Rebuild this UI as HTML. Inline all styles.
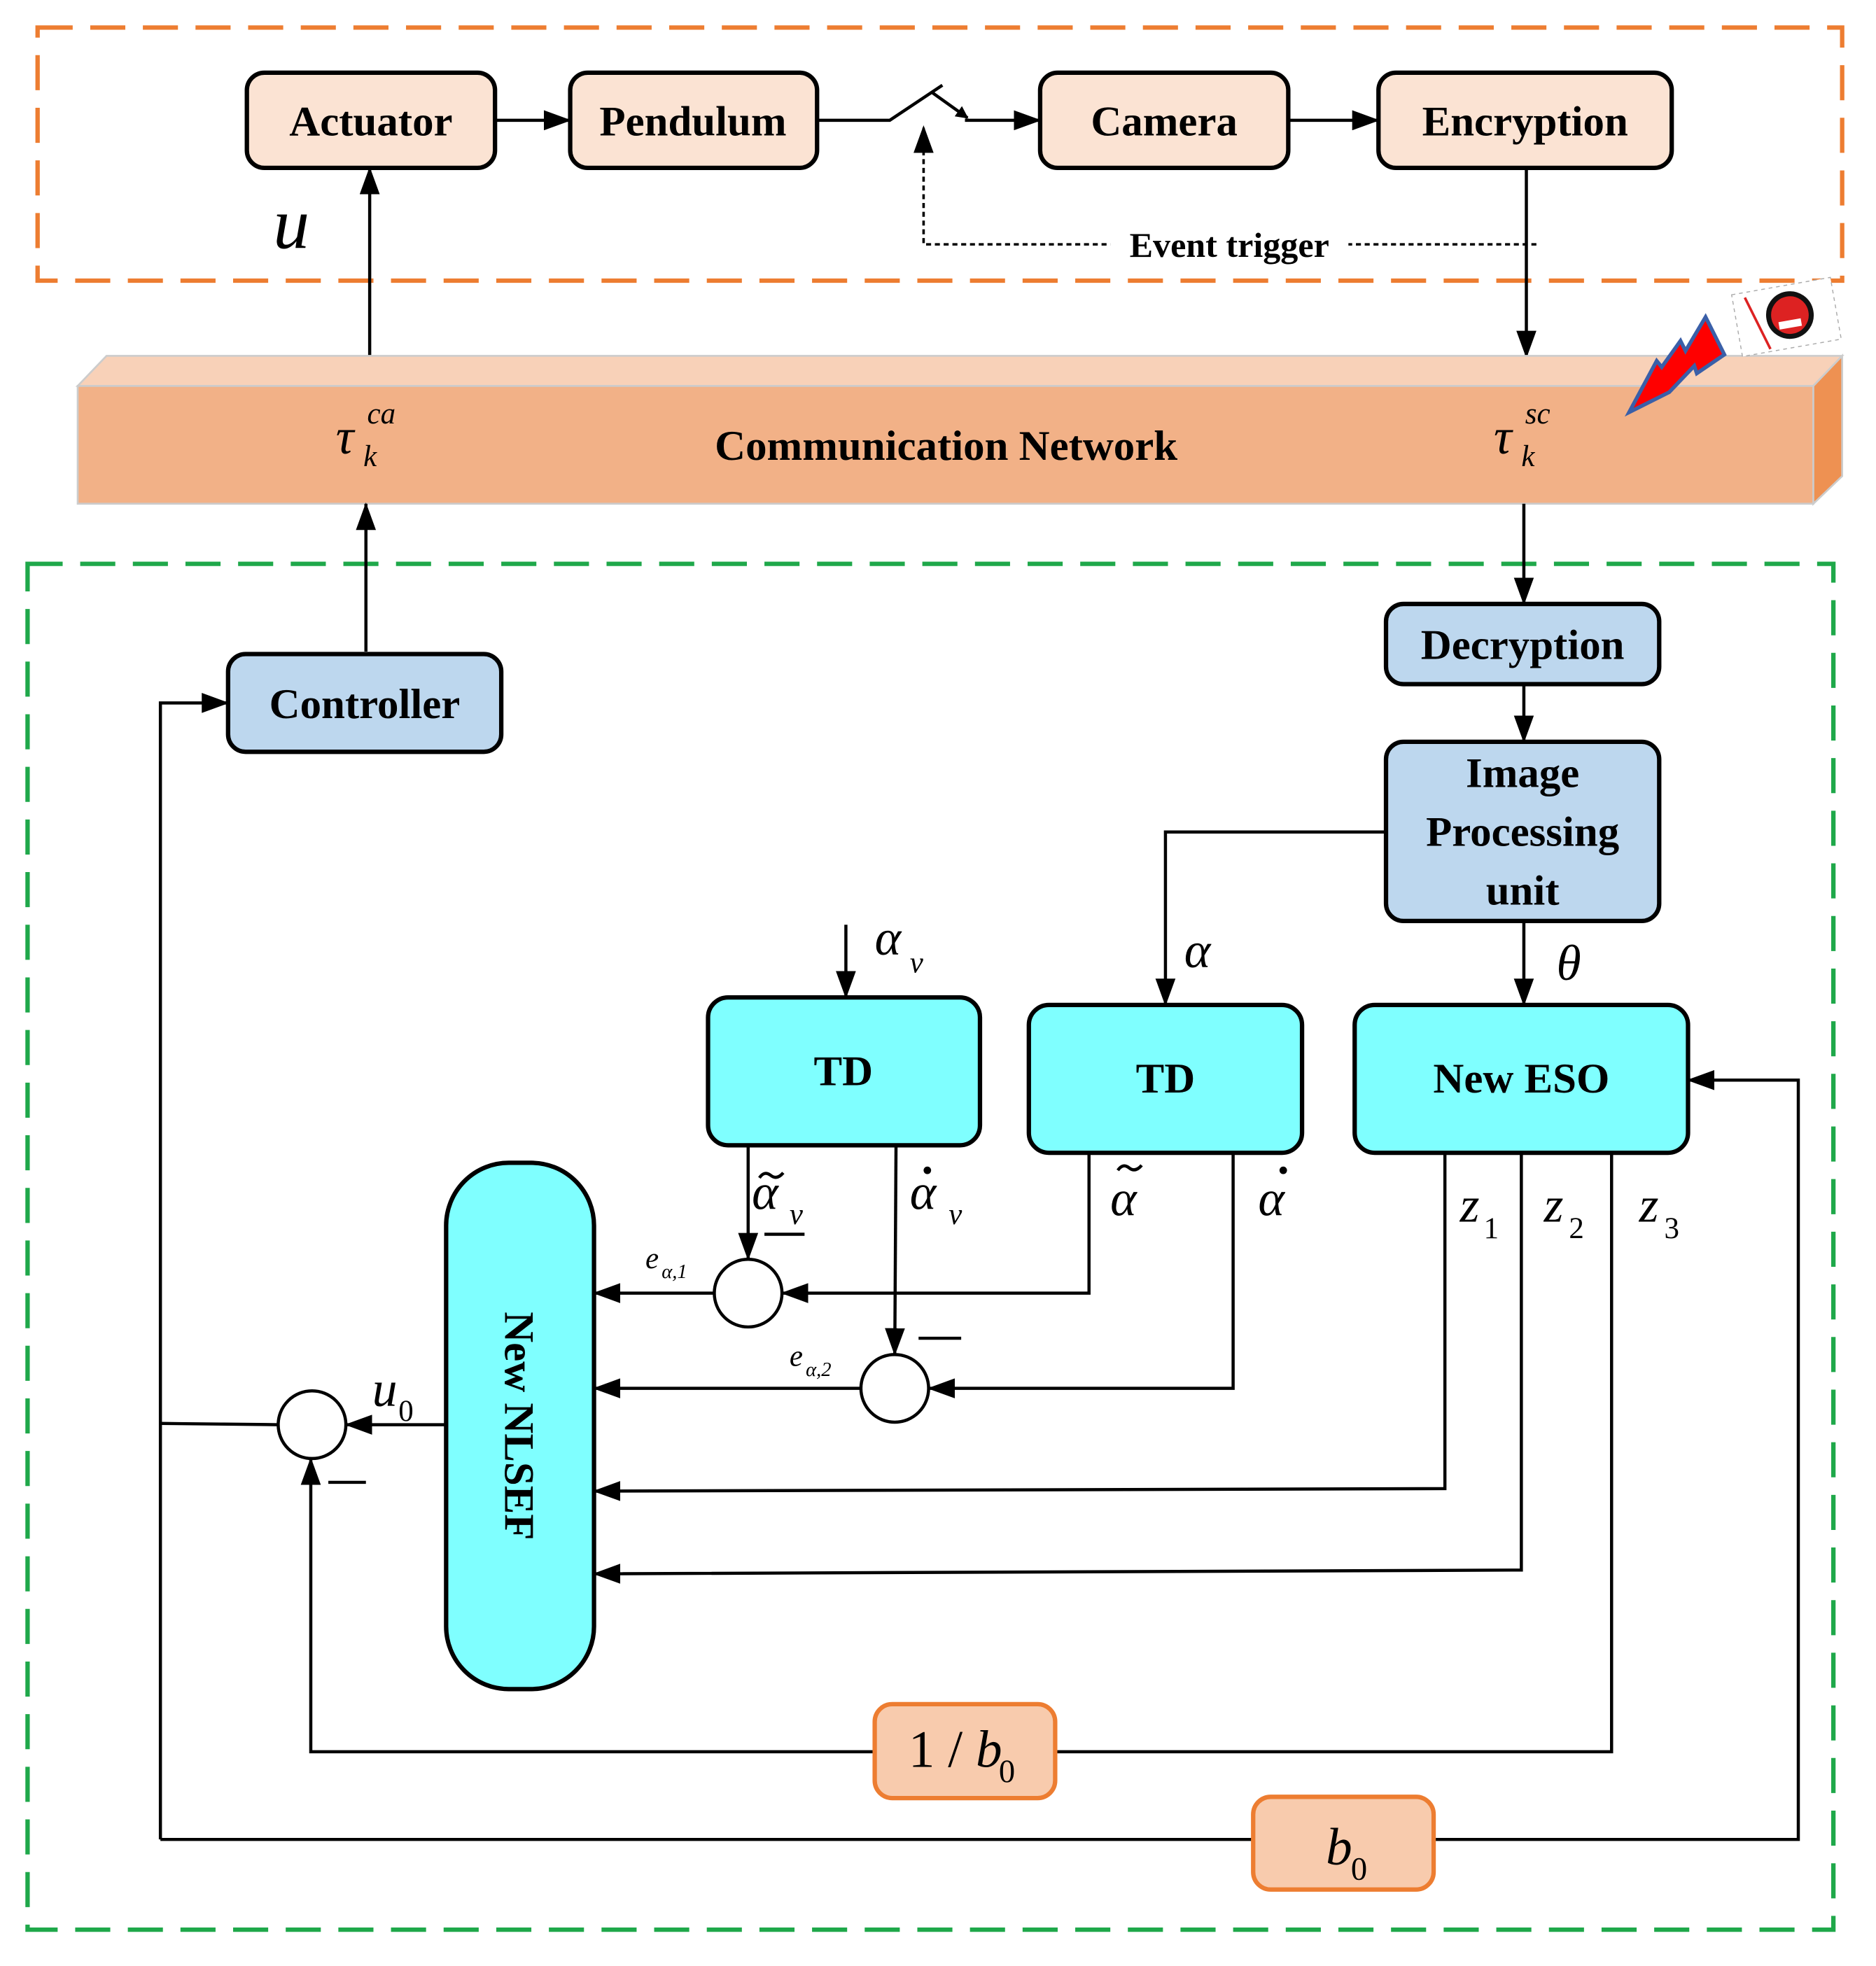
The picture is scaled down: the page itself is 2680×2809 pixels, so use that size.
<!DOCTYPE html>
<html><head><meta charset="utf-8"><style>
html,body{margin:0;padding:0;background:#fff}
svg{display:block}
text{font-family:"Liberation Serif",serif;fill:#000}
.b{font-weight:bold;font-size:34px}
.i{font-style:italic}
</style></head><body>
<svg width="2680" height="2809" viewBox="0 0 1497 1569" preserveAspectRatio="none" xmlns="http://www.w3.org/2000/svg">
<defs>
<marker id="a" markerWidth="10" markerHeight="10" refX="9" refY="5" orient="auto" markerUnits="userSpaceOnUse" viewBox="0 0 10 10">
<path d="M0,0 L10,5 L0,10 z" fill="#000"/></marker>
<marker id="A" markerWidth="22" markerHeight="16" refX="21" refY="8" orient="auto" markerUnits="userSpaceOnUse" viewBox="0 0 22 16">
<path d="M0,0 L22,8 L0,16 z" fill="#000"/></marker>
</defs>
<rect x="30" y="22" width="1440" height="202" fill="none" stroke="#ed7d31" stroke-width="3.5" stroke-dasharray="28,14"/>
<g stroke="#000" stroke-width="3.5" fill="#fbe3d3">
<rect x="197" y="58" width="198" height="76" rx="14"/>
<rect x="455" y="58" width="197" height="76" rx="14"/>
<rect x="830" y="58" width="198" height="76" rx="14"/>
<rect x="1100" y="58" width="234" height="76" rx="14"/>
</g>
<text class="b" x="296" y="108" text-anchor="middle">Actuator</text>
<text class="b" x="553" y="108" text-anchor="middle">Pendulum</text>
<text class="b" x="929" y="108" text-anchor="middle">Camera</text>
<text class="b" x="1217" y="108" text-anchor="middle">Encryption</text>
<g stroke="#000" stroke-width="2.5" fill="none">
<line x1="395" y1="96" x2="455" y2="96" marker-end="url(#A)"/>
<polyline points="652,96 710,96 752,68"/>
<line x1="744" y1="74" x2="772" y2="94" marker-end="url(#a)"/>
<line x1="770" y1="96" x2="830" y2="96" marker-end="url(#A)"/>
<line x1="1028" y1="96" x2="1100" y2="96" marker-end="url(#A)"/>
<polyline points="1226,195 737,195 737,102" stroke-dasharray="4,3" stroke-width="2"/>
<line x1="295" y1="285" x2="295" y2="134" marker-end="url(#A)"/>
<line x1="1218" y1="134" x2="1218" y2="285" marker-end="url(#A)"/>
</g>
<path d="M737,100 l-8,22 h16 z" fill="#000"/>
<rect x="886" y="180" width="190" height="30" fill="#fff"/>
<text x="981" y="205" text-anchor="middle" style="font-weight:bold;font-size:28px">Event trigger</text>
<text class="i" x="218" y="198" style="font-size:58px">u</text>
<polygon points="62,308 85,284 1470,284 1447,308" fill="#f8d1b8" stroke="#ccc" stroke-width="1.5"/>
<rect x="62" y="308" width="1385" height="94" fill="#f2b187" stroke="#ccc" stroke-width="1.5"/>
<polygon points="1447,308 1470,284 1470,380 1447,402" fill="#ee9152" stroke="#ccc" stroke-width="1.5"/>
<text class="b" x="755" y="367" text-anchor="middle">Communication Network</text>
<text class="i" x="268" y="362" style="font-size:40px">τ</text>
<text class="i" x="290" y="372" style="font-size:24px">k</text>
<text class="i" x="293" y="338" style="font-size:24px">ca</text>
<text class="i" x="1192" y="362" style="font-size:40px">τ</text>
<text class="i" x="1214" y="372" style="font-size:24px">k</text>
<text class="i" x="1217" y="338" style="font-size:24px">sc</text>
<polygon points="1300,329 1322,288 1326,293 1341,272 1345,280 1361,253 1376,283 1354,298 1352,292 1332,313" fill="#f00" stroke="#3a5fa8" stroke-width="3"/>
<g transform="rotate(-10 1425 250)">
<rect x="1385" y="228" width="80" height="50" fill="#fff" stroke="#aaa" stroke-width="0.8" stroke-dasharray="3,3"/>
<line x1="1395" y1="232" x2="1408" y2="276" stroke="#d22" stroke-width="2"/>
<circle cx="1428" cy="252" r="17" fill="#d22" stroke="#111" stroke-width="4"/>
<rect x="1418" y="256" width="18" height="6" fill="#fff"/>
</g>
<rect x="22" y="450" width="1441" height="1090" fill="none" stroke="#1fa84a" stroke-width="3.5" stroke-dasharray="28,14"/>
<g stroke="#000" stroke-width="2.5" fill="none">
<line x1="292" y1="520" x2="292" y2="402" marker-end="url(#A)"/>
<line x1="1216" y1="402" x2="1216" y2="482" marker-end="url(#A)"/>
<line x1="1216" y1="546" x2="1216" y2="592" marker-end="url(#A)"/>
<polyline points="1106,664 930,664 930,802" marker-end="url(#A)"/>
<line x1="1216" y1="735" x2="1216" y2="802" marker-end="url(#A)"/>
<line x1="675" y1="738" x2="675" y2="796" marker-end="url(#A)"/>
</g>
<g stroke="#000" stroke-width="3.5" fill="#bdd7ee">
<rect x="1106" y="482" width="218" height="64" rx="14"/>
<rect x="1106" y="592" width="218" height="143" rx="14"/>
<rect x="182" y="522" width="218" height="78" rx="14"/>
</g>
<text class="b" x="1215" y="526" text-anchor="middle">Decryption</text>
<text class="b" x="1215" y="628" text-anchor="middle">Image</text>
<text class="b" x="1215" y="675" text-anchor="middle">Processing</text>
<text class="b" x="1215" y="722" text-anchor="middle">unit</text>
<text class="b" x="291" y="573" text-anchor="middle">Controller</text>
<text class="i" x="945" y="772" style="font-size:40px">α</text>
<text class="i" x="1242" y="782" style="font-size:40px">θ</text>
<text class="i" x="698" y="762" style="font-size:40px">α</text>
<text class="i" x="726" y="776" style="font-size:24px">v</text>
<g stroke="#000" stroke-width="3.5" fill="#7fffff">
<rect x="565" y="796" width="217" height="118" rx="16"/>
<rect x="821" y="802" width="218" height="118" rx="16"/>
<rect x="1081" y="802" width="266" height="118" rx="16"/>
<rect x="356" y="928" width="118" height="420" rx="50"/>
</g>
<text class="b" x="673" y="866" text-anchor="middle">TD</text>
<text class="b" x="930" y="872" text-anchor="middle">TD</text>
<text class="b" x="1214" y="872" text-anchor="middle">New ESO</text>
<text class="b" transform="translate(403,1138) rotate(90)" text-anchor="middle">New NLSEF</text>
<g stroke="#000" stroke-width="2.5" fill="none">
<line x1="597" y1="914" x2="597" y2="1005" marker-end="url(#A)"/>
<line x1="715" y1="914" x2="714" y2="1081" marker-end="url(#A)"/>
<polyline points="869,920 869,1032 624,1032" marker-end="url(#A)"/>
<polyline points="984,920 984,1108 741,1108" marker-end="url(#A)"/>
<line x1="570" y1="1032" x2="474" y2="1032" marker-end="url(#A)"/>
<line x1="687" y1="1108" x2="474" y2="1108" marker-end="url(#A)"/>
<polyline points="1153,920 1153,1188 474,1190" marker-end="url(#A)"/>
<polyline points="1214,920 1214,1253 474,1256" marker-end="url(#A)"/>
<polyline points="1286,920 1286,1398 842,1398"/>
<polyline points="698,1398 248,1398 248,1164" marker-end="url(#A)"/>
<line x1="356" y1="1137" x2="276" y2="1137" marker-end="url(#A)"/>
<line x1="222" y1="1137" x2="128" y2="1136"/>
<polyline points="128,1468 128,561 182,561" marker-end="url(#A)"/>
<line x1="128" y1="1468" x2="1000" y2="1468"/>
<polyline points="1144,1468 1435,1468 1435,862 1347,862" marker-end="url(#A)"/>
<line x1="610" y1="985" x2="642" y2="985"/>
<line x1="733" y1="1068" x2="767" y2="1068"/>
<line x1="262" y1="1183" x2="292" y2="1183"/>
<!-- tildes -->
<path d="M606,940 q4,-6 9,-2 t10,-2"/>
<path d="M892,934 q4,-6 9,-2 t10,-2"/>
</g>
<g fill="#000">
<circle cx="740" cy="934" r="3"/>
<circle cx="1024" cy="934" r="3"/>
</g>
<g stroke="#000" stroke-width="2.5" fill="#fff">
<circle cx="597" cy="1032" r="27"/>
<circle cx="714" cy="1108" r="27"/>
<circle cx="249" cy="1137" r="27"/>
</g>
<g stroke="#ed7d31" stroke-width="3.5" fill="#f8cbad">
<rect x="698" y="1360" width="144" height="75" rx="14"/>
<rect x="1000" y="1434" width="144" height="74" rx="14"/>
</g>
<text x="725" y="1410" style="font-size:42px">1 / <tspan class="i">b</tspan></text>
<text x="797" y="1422" style="font-size:26px">0</text>
<text class="i" x="1058" y="1488" style="font-size:42px">b</text>
<text x="1078" y="1500" style="font-size:26px">0</text>
<text class="i" x="600" y="965" style="font-size:40px">α</text>
<text class="i" x="630" y="977" style="font-size:24px">v</text>
<text class="i" x="726" y="965" style="font-size:40px">α</text>
<text class="i" x="757" y="977" style="font-size:24px">v</text>
<text class="i" x="886" y="970" style="font-size:40px">α</text>
<text class="i" x="1004" y="970" style="font-size:40px">α</text>
<text class="i" x="1165" y="975" style="font-size:40px">z</text>
<text x="1184" y="988" style="font-size:24px">1</text>
<text class="i" x="1232" y="975" style="font-size:40px">z</text>
<text x="1252" y="988" style="font-size:24px">2</text>
<text class="i" x="1308" y="975" style="font-size:40px">z</text>
<text x="1328" y="988" style="font-size:24px">3</text>
<text class="i" x="515" y="1012" style="font-size:24px">e</text>
<text class="i" x="528" y="1020" style="font-size:16px">α,1</text>
<text class="i" x="630" y="1090" style="font-size:24px">e</text>
<text class="i" x="643" y="1098" style="font-size:16px">α,2</text>
<text class="i" x="297" y="1122" style="font-size:40px">u</text>
<text x="318" y="1134" style="font-size:24px">0</text>
</svg>
</body></html>
